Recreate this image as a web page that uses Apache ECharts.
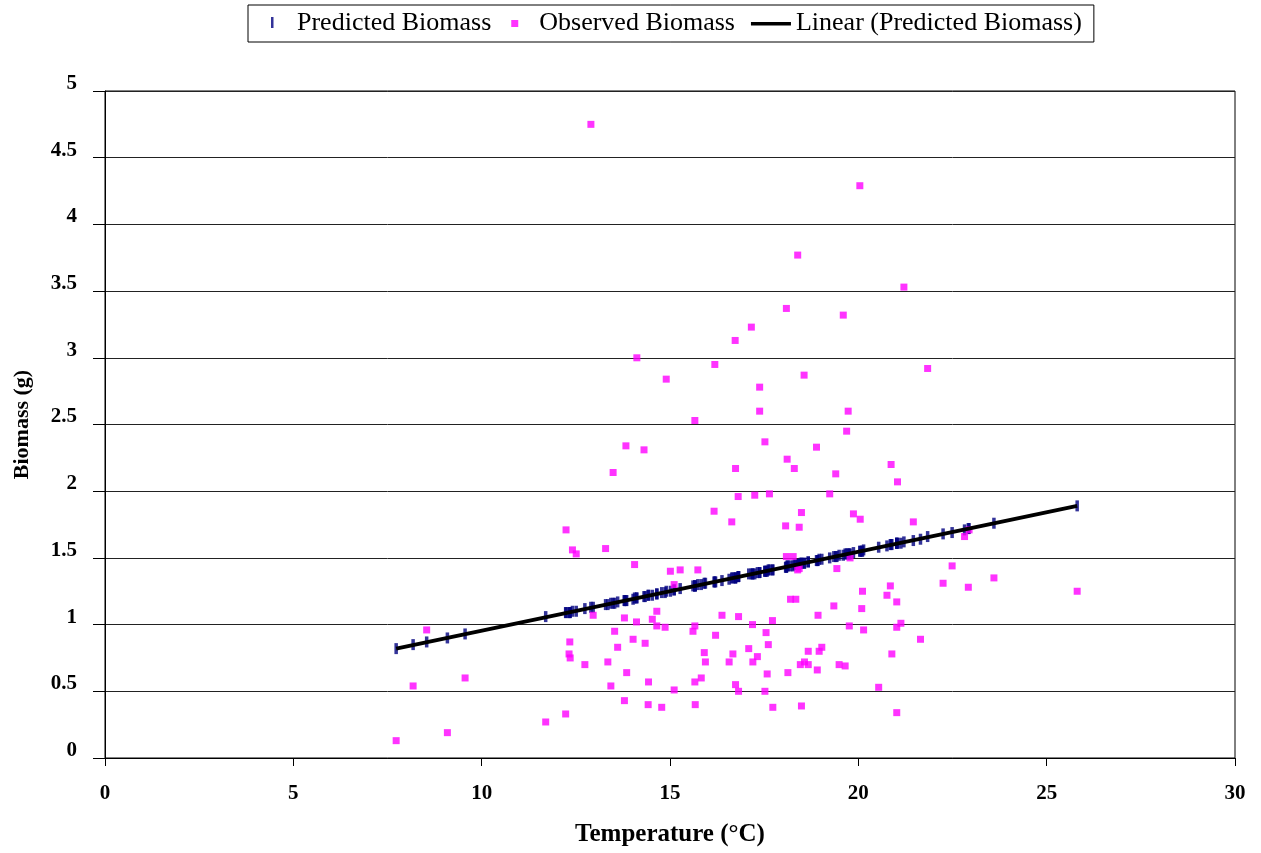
<!DOCTYPE html>
<html>
<head>
<meta charset="utf-8">
<script src="https://cdn.jsdelivr.net/npm/echarts@6/dist/echarts.min.js"></script>
<style>html,body{margin:0;padding:0;background:#fff;}#c{width:1261px;height:853px;}</style>
</head>
<body>
<div id="c"></div>
<script>
// Temperature (°C) for each sample
var temps = [7.73,8.18,8.54,9.09,9.56,11.70,12.23,12.24,12.34,12.32,12.35,12.41,12.51,12.74,12.90,12.96,13.29,13.35,13.43,13.49,
13.53,13.61,13.79,13.79,13.83,13.85,14.02,14.06,14.12,14.11,14.31,14.34,14.43,14.42,14.53,14.65,14.65,14.78,14.87,14.90,
15.01,15.11,15.11,15.27,15.61,15.66,15.66,15.67,15.66,15.74,15.83,15.91,15.94,16.17,16.19,16.21,16.38,16.57,16.64,16.67,
16.73,16.74,16.74,16.81,16.82,16.82,17.09,17.16,17.19,17.20,17.25,17.32,17.38,17.38,17.52,17.52,17.55,17.58,17.61,17.64,
17.72,17.73,18.07,18.09,18.09,18.11,18.13,18.20,18.27,18.30,18.34,18.39,18.39,18.43,18.43,18.46,18.49,18.49,18.56,18.57,
18.67,18.67,18.89,18.91,18.93,18.96,19.03,19.24,19.35,19.40,19.43,19.49,19.60,19.65,19.69,19.73,19.76,19.78,19.87,20.04,
20.05,20.09,20.11,20.14,20.54,20.76,20.85,20.87,20.89,21.02,21.02,21.02,21.04,21.13,21.21,21.46,21.65,21.84,22.25,22.49,
22.82,22.94,22.92,23.60,25.81];
// Observed biomass (g)
var observed = [0.13,0.54,0.96,0.19,0.60,0.27,0.33,1.71,0.87,0.78,0.75,1.56,1.53,0.70,4.75,1.07,1.57,0.72,0.54,2.14,
0.95,0.83,0.43,1.05,2.34,0.64,0.89,1.45,3.00,1.02,2.31,0.86,0.57,0.40,1.04,1.10,0.99,0.38,0.98,2.84,
1.40,1.30,0.51,1.41,0.95,0.99,0.57,0.40,2.53,1.41,0.60,0.79,0.72,1.85,2.95,0.92,1.07,0.72,1.77,0.78,
3.13,2.17,0.55,1.96,1.06,0.50,0.82,3.23,1.00,0.72,1.97,0.76,2.78,2.60,2.37,0.50,0.94,0.63,0.85,1.98,
1.03,0.38,1.74,3.37,1.51,2.24,0.64,1.19,1.51,2.17,1.19,3.77,1.41,1.42,1.73,0.70,1.84,0.39,2.87,0.72,
0.80,0.70,2.33,0.66,1.07,0.80,0.83,1.98,1.14,2.13,1.42,0.70,3.32,0.69,2.45,2.60,0.99,1.50,1.83,4.29,
1.79,1.12,1.25,0.96,0.53,1.22,1.29,2.20,0.78,1.17,0.98,0.34,2.07,1.01,3.53,1.77,0.89,2.92,1.31,1.44,
1.66,1.71,1.28,1.35,1.25];
// Predicted biomass (g)
var predicted = [0.82,0.85,0.87,0.90,0.93,1.06,1.09,1.09,1.09,1.09,1.09,1.10,1.10,1.12,1.13,1.13,1.15,1.15,1.16,1.16,
1.16,1.17,1.18,1.18,1.18,1.18,1.19,1.20,1.20,1.20,1.21,1.21,1.22,1.22,1.22,1.23,1.23,1.24,1.24,1.25,
1.25,1.26,1.26,1.27,1.29,1.29,1.29,1.29,1.29,1.30,1.30,1.31,1.31,1.32,1.32,1.32,1.33,1.34,1.35,1.35,
1.35,1.35,1.35,1.36,1.36,1.36,1.38,1.38,1.38,1.38,1.38,1.39,1.39,1.39,1.40,1.40,1.40,1.40,1.41,1.41,
1.41,1.41,1.43,1.43,1.43,1.44,1.44,1.44,1.44,1.45,1.45,1.45,1.45,1.45,1.45,1.46,1.46,1.46,1.46,1.46,
1.47,1.47,1.48,1.48,1.48,1.49,1.49,1.50,1.51,1.51,1.51,1.52,1.52,1.53,1.53,1.53,1.53,1.53,1.54,1.55,
1.55,1.55,1.55,1.56,1.58,1.59,1.60,1.60,1.60,1.61,1.61,1.61,1.61,1.61,1.62,1.63,1.64,1.66,1.68,1.69,
1.71,1.72,1.72,1.76,1.89];
// Linear trendline endpoints
var trendX = [7.73, 25.81];
var trendY = [0.82, 1.89];
// Axis ticks
var xTicks = {min: 0, max: 30, interval: 5};
var yTicks = {min: 0, max: 5, interval: 0.5};

var serif = '"Liberation Serif", "Times New Roman", serif';
var predData = temps.map(function (t, i) { return [t, predicted[i]]; });
var obsData = temps.map(function (t, i) { return [t, observed[i]]; });
var trendData = trendX.map(function (t, i) { return [t, trendY[i]]; });

var chart = echarts.init(document.getElementById('c'), null, {renderer: 'canvas'});
chart.setOption({
  backgroundColor: '#fff',
  animation: false,
  textStyle: {fontFamily: serif},
  grid: {left: 105, right: 26, top: 91, bottom: 95, show: true, borderColor: '#000', borderWidth: 1, backgroundColor: 'transparent'},
  legend: {
    left: 248, top: 5, padding: [5, 12, 6, 17], itemGap: 16, itemWidth: 40, itemHeight: 14,
    borderColor: '#000', borderWidth: 1, backgroundColor: '#fff',
    textStyle: {fontFamily: serif, fontSize: 26, color: '#000'},
    data: [
      {name: 'Predicted Biomass', icon: 'path://M0,0M14,14M6,1h2.5v11h-2.5z'},
      {name: 'Observed Biomass', icon: 'path://M0,0M14,14M4,4h7v7h-7z'},
      {name: 'Linear (Predicted Biomass)', icon: 'path://M0,0M40,14M0,6h40v3.5h-40z'}
    ]
  },
  xAxis: {
    type: 'value', min: xTicks.min, max: xTicks.max, interval: xTicks.interval,
    name: 'Temperature (°C)', nameLocation: 'middle', nameGap: 64,
    nameTextStyle: {fontFamily: serif, fontSize: 25, fontWeight: 'bold', color: '#000'},
    axisLine: {show: true, lineStyle: {color: '#000', width: 1}},
    axisTick: {show: true, inside: false, length: 8, lineStyle: {color: '#000'}},
    axisLabel: {margin: 25, fontFamily: serif, fontSize: 21, fontWeight: 'bold', color: '#000'},
    splitLine: {show: false}
  },
  yAxis: {
    type: 'value', min: yTicks.min, max: yTicks.max, interval: yTicks.interval,
    name: 'Biomass (g)', nameLocation: 'middle', nameGap: 72,
    nameTextStyle: {fontFamily: serif, fontSize: 22, fontWeight: 'bold', color: '#000'},
    axisLine: {show: true, lineStyle: {color: '#000', width: 1}},
    axisTick: {show: true, inside: false, length: 12, lineStyle: {color: '#000'}},
    axisLabel: {margin: 28, verticalAlign: 'bottom', padding: [0, 0, -3, 0], fontFamily: serif, fontSize: 21, fontWeight: 'bold', color: '#000'},
    splitLine: {show: true, lineStyle: {color: '#222', width: 1}}
  },
  series: [
    {
      name: 'Predicted Biomass', type: 'scatter', data: predData, z: 2,
      symbol: 'rect', symbolSize: [3.5, 11],
      itemStyle: {color: '#000080'}
    },
    {
      name: 'Observed Biomass', type: 'scatter', data: obsData, z: 3,
      symbol: 'rect', symbolSize: 7,
      itemStyle: {color: '#FF00FF'}
    },
    {
      name: 'Linear (Predicted Biomass)', type: 'line', data: trendData, z: 4,
      showSymbol: false, symbol: 'none',
      lineStyle: {color: '#000', width: 4},
      itemStyle: {color: '#000'}
    }
  ]
});
</script>
</body>
</html>
